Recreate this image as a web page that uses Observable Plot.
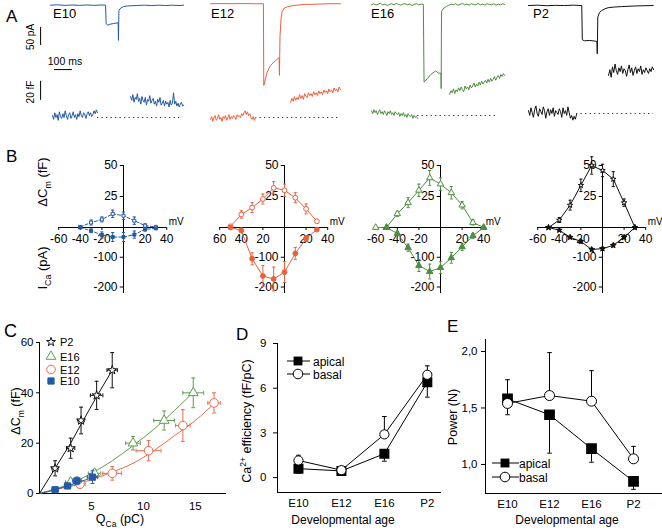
<!DOCTYPE html>
<html><head><meta charset="utf-8">
<script src="https://cdn.jsdelivr.net/npm/d3@7"></script>
<script src="https://cdn.jsdelivr.net/npm/@observablehq/plot@0.6"></script>
<style>
body{margin:0;background:#fff;}
#fig{position:relative;width:662px;height:531px;overflow:hidden;background:#fff;}
</style></head><body><div id="fig"></div>
<script>
// ================= DATA =================
const stages = ["E10","E12","E16","P2"];
const ages = ["E10","E12","E16","P2"];
const colors = {E10:"#2559a6", E12:"#ec5f3e", E16:"#4f8d40", P2:"#111111"};

// ---- Panel A: Ca current traces [time ms, current pA]
const curE10 = [[0,-2],[40,-1],[80,-2.5],[120,-1.5],[160,-2.5],[200,-1.5],[240,-2.5],[280,-1.5],[306,-2],[309,-52],[318,-58],[330,-55],[350,-53],[376,-51],[377.5,-100],[380,-17],[390,-10],[405,-6],[430,-4],[480,-3],[520,-2],[560,-3],[600,-2],[640,-3],[680,-2],[720,-3],[740,-2]];
const curE12 = [[0,2],[60,2.5],[120,2],[180,2.5],[240,2],[294,2],[296,-225],[315,-188],[333,-170],[361,-156],[381,-148],[383,-197],[386,-90],[392,-40],[398,-20],[410,-10],[430,-6],[460,-3],[520,0],[600,1],[660,2],[722,2]];
const curE16 = [[0,-1],[12,2],[25,-2],[37,1],[50,3],[62,-1],[75,1],[87,-3],[100,0],[112,2],[125,-1],[137,3],[150,0],[162,-2],[175,1],[187,2],[200,-1],[212,1],[225,-3],[237,0],[250,2],[262,-1],[275,1],[288,0],
  [292,-216],[309,-207],[328,-195],[356,-185],[374,-191],[386,-191],[387,-234],[389,-20],[398,-12],[417,-5],
  [430,-2],[442,1],[455,-1],[467,2],[480,-2],[492,0],[505,3],[517,-1],[530,1],[542,-2],[555,2],[567,0],[580,-1],[592,3],[605,-1],[617,1],[630,-2],[642,2],[655,0],[667,-1],[680,2],[692,-2],[705,1],[717,-1],[730,2],[740,0]];
const curP2 = [[0,-3],[50,-2],[100,-3.5],[150,-2.5],[200,-3],[250,-2],[296,-3],[299,-98],[310,-101],[340,-100],[370,-102],[380,-103],[382,-137],[385,-35],[395,-22],[406,-17],[425,-12],[443,-9],[480,-7],[517,-6],[600,-4],[693,-3]];

// ---- Panel A: capacitance traces (fF, relative to pre-pulse baseline), before / after the pulse
const capE10pre  = [2,-2,5,0,3,-3,6,1,-1,4,0,7,2,-2,3,5,-1,2,6,0,3,-2,4,1,7,2,0,5,3,-1,4,6,2,5,1,3,7,4,8,5];
const capE10post = [22,18,24,16,21,19,25,17,20,14,22,18,16,21,13,19,17,23,15,18,20,14,17,12,19,16,21,13,15,18,12,17,14,16,11,18,13,15,26,14,17,12,15,11,14,16,12,13];
const capE12pre  = [-2,1,-4,0,2,-3,-1,3,-2,0,-4,1,-1,2,-3,0,3,-2,1,-1,2,0,-2,3,1,2,0,4,2,5,7,3,6,2,4,0,-2,1,-3,0];
const capE12post = [16,20,17,22,18,21,19,24,20,23,19,25,22,21,26,23,25,22,27,24,26,23,28,25,27,24,29,26,28,25,30,27,29,26,31,28,30,27,32,29];
const capE16pre  = [5,2,6,3,5,1,4,6,2,4,1,5,3,0,4,2,5,1,3,0,4,2,1,3,-1,2,0,3,-1,1,-2,2,0,-1,1,-3,0,-2,-1,-3];
const capE16post = [22,26,24,28,23,27,25,29,26,30,27,25,31,28,30,27,32,29,31,34,30,33,31,35,32,36,33,35,37,34,38,35,39,36,38,41,37,40,42,39,43,41,44,42];
const capP2pre   = [3,-2,6,1,-4,4,8,0,-3,5,2,-1,7,3,-5,2,5,-2,4,0,6,-3,3,1,-1,5,2,-4,6,0,3,-2,7,1,-5,-2,-7,-3,-6,-1];
const capP2post  = [40,46,38,49,43,52,45,41,48,44,50,42,47,45,39,46,51,43,48,40,45,49,42,47,44,50,41,46,43,48,45,42,47,44,49,46];
// time spans (ms) of the capacitance segments and of the dotted baseline
const capPreSpan  = {E10:[11,261], E12:[0,250], E16:[0,256], P2:[0,267]};
const capPostSpan = {E10:[445,740], E12:[445,722], E16:[434,740], P2:[445,695]};
const capDotSpan  = {E10:[261,722], E12:[250,722], E16:[256,706], P2:[267,695]};

// ---- Panel B: I-V and ΔCm-V relations
const ivMV_E10 = [-40,-30,-20,-10,0,10,20,30];
const ivCm_E10 = [0.5,4,6.5,11,9.5,5.5,1.5,0.5];
const ivCmErr_E10 = [1,2,2,3,3,3,1.5,1];
const ivCa_E10 = [0,-11,-25,-32,-32,-24,-6,-3];
const ivCaErr_E10 = [3,6,10,15,15,12,6,3];

const ivMV_E12 = [-50,-40,-30,-20,-10,0,10,20,30];
const ivCm_E12 = [1,10.5,16,23,32,30,24,15,5];
const ivCmErr_E12 = [0,3,4,4,5,5,4,4,1];
const ivCa_E12 = [0,-10,-105,-163,-173,-150,-87,-37,-7];
const ivCaErr_E12 = [0,8,20,35,40,35,20,10,4];

const ivMV_E16 = [-60,-50,-40,-30,-20,-10,0,10,20,30,40];
const ivCm_E16 = [0,0,11,20,30,40,35,28,18,4,0];
const ivCmErr_E16 = [0,0,2,4,5,6,5,5,3,2,0];
const ivCa_E16 = [null,0,-20,-68,-128,-148,-135,-102,-65,-28,0];
const ivCaErr_E16 = [0,0,6,12,20,25,20,18,12,8,0];

const ivMV_P2 = [-50,-40,-30,-20,-10,0,10,20,30];
const ivCm_P2 = [0,6,18,34,50,46,39,20,0];
const ivCmErr_P2 = [0,2,4,5,7,5,6,3,0];
const ivCa_P2 = [0,-9,-33,-47,-74,-71,-60,-33,0];
const ivCaErr_P2 = [0,3,4,5,5,5,5,5,0];

const bXTicks = [-60,-40,-20,20,40];
const bXLabels = {E10:["-60","-40","-20","20","40"], E12:["60","40","20","20","40"], E16:["-60","-40","-20","20","40"], P2:["-60","-40","-20","20","40"]};
const bYTicksFF = [50,25], bYTicksPA = [-100,-200];

// ---- Panel C: ΔCm vs QCa
const cQ_P2 = [1.5,3,4,5.5,7], cCm_P2 = [10,18,29,39,49], cQErr_P2 = [0.3,0.4,0.3,0.6,0.5], cCmErr_P2 = [3,4,5.3,5.6,7];
const cQ_E16 = [3,5.3,9,12,14.8], cCm_E16 = [4.5,8,20,29,40], cQErr_E16 = [0.5,0.6,0.7,1,1], cCmErr_E16 = [1.5,1.5,2.7,3.8,5.9];
const cQ_E12 = [3.9,7,10.5,13.8,16.8], cCm_E12 = [3.7,8,17,27,36], cQErr_E12 = [0.5,0.9,1.2,0.7,0.6], cCmErr_E12 = [1.5,2.7,4,6.3,4];
const cQ_E10 = [1.5,2.7,3.6,5.1], cCm_E10 = [1.5,3,5,6.5], cQErr_E10 = [0.3,0.3,0.4,0.5], cCmErr_E10 = [0.8,1,1.5,2.5];
const fitQ_P2 = [0,1.5,3,4,5.5,7], fitCm_P2 = [0,10,20,27.5,38.5,49];
const fitQ_E16 = [0,3,5,7,9,11,13,15], fitCm_E16 = [0,4,8,13,19,25.5,33,41];
const fitQ_E12 = [0,3,5,7,9,11,13,15,17], fitCm_E12 = [0,3,5.5,8.5,12,17,23,29,36.5];
const fitQ_E10 = [0,1.5,3,4.5,5.5], fitCm_E10 = [0,1.5,3.5,5.5,6.8];

// ---- Panel D: Ca2+ efficiency (fF/pC); error sign = direction of the one-sided bar
const effApical = [0.6,0.45,1.6,6.4], effApicalErr = [-0.3,-0.1,-0.5,-1.0];
const effBasal = [1.15,0.5,2.9,6.9], effBasalErr = [0.35,0.1,1.2,0.6];
// ---- Panel E: power (N)
const powApical = [1.58,1.44,1.14,0.85], powApicalErr = [0.17,-0.34,-0.12,-0.07];
const powBasal = [1.54,1.61,1.56,1.05], powBasalErr = [-0.1,0.38,0.27,0.11];

// ================= HELPERS =================
const fig = document.getElementById("fig");
const FONT = "Arial, 'Liberation Sans', sans-serif";
function put(svg, left, top, fontSize = 12) {
  svg.style.position = "absolute";
  svg.style.left = left + "px";
  svg.style.top = top + "px";
  svg.style.background = "none";
  svg.style.overflow = "visible";
  svg.style.maxWidth = "none";
  svg.style.fontFamily = FONT;
  svg.style.fontSize = fontSize + "px";
  svg.style.color = "#000";
  fig.appendChild(svg);
}
const hcap = {draw(ctx, size){const w = Math.sqrt(size)/2; ctx.moveTo(-w,0); ctx.lineTo(w,0);}};
const vcap = {draw(ctx, size){const h = Math.sqrt(size)/2; ctx.moveTo(0,-h); ctx.lineTo(0,h);}};
function seg(vals, span) {
  const [t0,t1] = span;
  return vals.map((v,i) => [t0 + i*(t1-t0)/(vals.length-1), v]);
}

// ================= PANEL A =================
const colStart = {E10:50, E12:210, E16:371, P2:528};
const capTop = {E10:56, E12:56, E16:54, P2:52};
const curData = {E10:curE10, E12:curE12, E16:curE16, P2:curP2};
const capPre = {E10:capE10pre, E12:capE12pre, E16:capE16pre, P2:capP2pre};
const capPost = {E10:capE10post, E12:capE12post, E16:capE16post, P2:capP2post};
const X = d => d[0], Y = d => d[1];

for (const s of stages) {
  const col = colors[s];
  const curMarks = [Plot.line(curData[s], {x: X, y: Y, stroke: col, strokeWidth: 1})];
  if (s === "E10") {
    curMarks.push(
      Plot.ruleX([-55], {y1: -114, y2: -64, stroke: "#000", strokeWidth: 1}),
      Plot.ruleY([-181], {x1: 22, x2: 122, stroke: "#000", strokeWidth: 1})
    );
  }
  put(Plot.plot({
    width: 160, height: 100, marginLeft: 25, marginRight: 0, marginTop: 0, marginBottom: 0,
    x: {domain: [0, 750], axis: null},
    y: {domain: [-267, 11], axis: null},
    marks: curMarks
  }), colStart[s] - 25, 0);

  const capMarks = [
    Plot.ruleY([0], {x1: capDotSpan[s][0], x2: capDotSpan[s][1], stroke: "#333", strokeWidth: 1.2, strokeDasharray: "1.3,3.2"}),
    Plot.line(seg(capPre[s], capPreSpan[s]), {x: X, y: Y, stroke: col, strokeWidth: 1}),
    Plot.line(seg(capPost[s], capPostSpan[s]), {x: X, y: Y, stroke: col, strokeWidth: 1})
  ];
  if (s === "E10") capMarks.push(Plot.ruleX([-55], {y1: 18, y2: 38, stroke: "#000", strokeWidth: 1}));
  put(Plot.plot({
    width: 160, height: 70, marginLeft: 25, marginRight: 0, marginTop: 0, marginBottom: 0,
    x: {domain: [0, 750], axis: null},
    y: {domain: [-9.45, 64.05], axis: null},
    marks: capMarks
  }), colStart[s] - 25, capTop[s]);
}

// ================= PANEL B =================
const kCa = 0.24; // drawing units (fF) per pA on the shared vertical axis
const pxPerMV = 1.08, pxPerFF = 1.24;
const bOrigin = {E10:123, E12:284, E16:440, P2:602};
function ivPanel(s, mv, cm, cmErr, ca, caErr, cmSym, caSym, rCm, rCa, dash) {
  const col = colors[s];
  const rows = mv.map((v,i) => ({mv: v, cm: cm[i], cmLo: cm[i]-cmErr[i], cmHi: cm[i]+cmErr[i],
    ca: ca[i] == null ? null : ca[i]*kCa,
    caLo: ca[i] == null ? null : (ca[i]-caErr[i])*kCa,
    caHi: ca[i] == null ? null : (ca[i]+caErr[i])*kCa}));
  const caRows = rows.filter(d => d.ca != null);
  const yTicks = [...bYTicksFF, ...bYTicksPA.map(v => v*kCa)];
  const yLabels = [...bYTicksFF, ...bYTicksPA].map(String);
  const ox = 95, oy = 82;
  const svg = Plot.plot({
    width: 170, height: 160, margin: 0,
    x: {domain: [-60, 40], range: [ox - 60*pxPerMV, ox + 40*pxPerMV], axis: null},
    y: {domain: [0, 50], range: [oy, oy - 50*pxPerFF], axis: null},
    marks: [
      Plot.ruleY([0], {x1: -60, x2: 40, stroke: "#000", strokeWidth: 1}),
      Plot.ruleX([0], {y1: 50, y2: -222*kCa, stroke: "#000", strokeWidth: 1}),
      Plot.ruleY(yTicks, {y: d => d, x1: -3, x2: 0, stroke: "#000"}),
      Plot.text(yTicks, {x: 0, y: d => d, text: yLabels, dx: -6, textAnchor: "end", fontSize: 12}),
      Plot.ruleX(bXTicks, {x: d => d, y1: 0, y2: -2.4, stroke: "#000"}),
      Plot.text(bXTicks, {x: d => d, y: 0, dy: 12, text: bXLabels[s], fontSize: 12}),
      Plot.text(["mV"], {x: 40, y: 0, dx: 2, dy: -6, textAnchor: "start", fontSize: 10}),
      // ΔCm
      Plot.ruleX(rows, {x: "mv", y1: "cmLo", y2: "cmHi", stroke: col, strokeWidth: 1}),
      Plot.dot(rows, {x: "mv", y: "cmLo", symbol: hcap, r: 1.8, fill: "none", stroke: col, strokeWidth: 1}),
      Plot.dot(rows, {x: "mv", y: "cmHi", symbol: hcap, r: 1.8, fill: "none", stroke: col, strokeWidth: 1}),
      Plot.line(rows, {x: "mv", y: "cm", stroke: col, strokeWidth: 1, strokeDasharray: dash}),
      Plot.dot(rows, {x: "mv", y: "cm", symbol: cmSym, r: rCm, fill: "#fff", stroke: col, strokeWidth: 1}),
      // ICa
      Plot.ruleX(caRows, {x: "mv", y1: "caLo", y2: "caHi", stroke: col, strokeWidth: 1}),
      Plot.dot(caRows, {x: "mv", y: "caLo", symbol: hcap, r: 1.8, fill: "none", stroke: col, strokeWidth: 1}),
      Plot.dot(caRows, {x: "mv", y: "caHi", symbol: hcap, r: 1.8, fill: "none", stroke: col, strokeWidth: 1}),
      Plot.line(caRows, {x: "mv", y: "ca", stroke: col, strokeWidth: 1, strokeDasharray: dash}),
      Plot.dot(caRows, {x: "mv", y: "ca", symbol: caSym, r: rCa, fill: col, stroke: col, strokeWidth: 1})
    ]
  });
  put(svg, bOrigin[s] - ox, 227 - oy, 12);
}
ivPanel("E10", ivMV_E10, ivCm_E10, ivCmErr_E10, ivCa_E10, ivCaErr_E10, "square", "square", 1.7, 1.7, "3,2");
ivPanel("E12", ivMV_E12, ivCm_E12, ivCmErr_E12, ivCa_E12, ivCaErr_E12, "circle", "circle", 2.4, 2.4, null);
ivPanel("E16", ivMV_E16, ivCm_E16, ivCmErr_E16, ivCa_E16, ivCaErr_E16, "triangle", "triangle", 2.4, 2.4, null);
ivPanel("P2", ivMV_P2, ivCm_P2, ivCmErr_P2, ivCa_P2, ivCaErr_P2, "star", "star", 1.7, 1.8, null);

// ================= PANEL C =================
const cSeries = [
  {s:"E12", q:cQ_E12, cm:cCm_E12, qe:cQErr_E12, ce:cCmErr_E12, fq:fitQ_E12, fc:fitCm_E12, sym:"circle", r:4.3, fill:"#fff", curve:"monotone-x"},
  {s:"E16", q:cQ_E16, cm:cCm_E16, qe:cQErr_E16, ce:cCmErr_E16, fq:fitQ_E16, fc:fitCm_E16, sym:"triangle", r:3.6, fill:"#fff", curve:"monotone-x"},
  {s:"E10", q:cQ_E10, cm:cCm_E10, qe:cQErr_E10, ce:cCmErr_E10, fq:fitQ_E10, fc:fitCm_E10, sym:"square", r:3.5, fill:null, curve:"monotone-x"},
  {s:"P2", q:cQ_P2, cm:cCm_P2, qe:cQErr_P2, ce:cCmErr_P2, fq:fitQ_P2, fc:fitCm_P2, sym:"star", r:2.8, fill:"#fff", curve:"linear"}
];
const cColors = {E10:"#2559a6", E12:"#ec6a48", E16:"#5f9c4e", P2:"#111"};
const cMarks = [
  Plot.ruleY([0], {stroke: "#000", strokeWidth: 1}),
  Plot.ruleX([0], {stroke: "#000", strokeWidth: 1})
];
for (const S of cSeries) {
  const col = cColors[S.s];
  const rows = S.q.map((q,i) => ({q, cm: S.cm[i], qe: S.qe[i], ce: S.ce[i]}));
  const fit = S.fq.map((q,i) => ({q, cm: S.fc[i]}));
  cMarks.push(
    Plot.line(fit, {x: "q", y: "cm", stroke: col, strokeWidth: 1, curve: S.curve}),
    Plot.ruleX(rows, {x: "q", y1: d => d.cm - d.ce, y2: d => d.cm + d.ce, stroke: col, strokeWidth: 1}),
    Plot.dot(rows, {x: "q", y: d => d.cm - d.ce, symbol: hcap, r: 2.2, fill: "none", stroke: col, strokeWidth: 1}),
    Plot.dot(rows, {x: "q", y: d => d.cm + d.ce, symbol: hcap, r: 2.2, fill: "none", stroke: col, strokeWidth: 1}),
    Plot.ruleY(rows, {y: "cm", x1: d => d.q - d.qe, x2: d => d.q + d.qe, stroke: col, strokeWidth: 1}),
    Plot.dot(rows, {x: d => d.q - d.qe, y: "cm", symbol: vcap, r: 2.2, fill: "none", stroke: col, strokeWidth: 1}),
    Plot.dot(rows, {x: d => d.q + d.qe, y: "cm", symbol: vcap, r: 2.2, fill: "none", stroke: col, strokeWidth: 1}),
    Plot.dot(rows, {x: "q", y: "cm", symbol: S.sym, r: S.r, fill: S.fill || col, stroke: col, strokeWidth: 1})
  );
}
put(Plot.plot({
  width: 230, height: 201, marginLeft: 39, marginRight: 4, marginTop: 12, marginBottom: 38,
  x: {domain: [0, 18], ticks: [5, 10, 15], tickSize: 0, tickPadding: 8, label: null},
  y: {domain: [0, 60], ticks: [0, 20, 40, 60], tickSize: 3, tickPadding: 3, label: null},
  marks: cMarks
}), 0, 330, 11.5);

// ================= PANEL D =================
const dRows = ages.map((a,i) => ({i, ap: effApical[i], apE: effApicalErr[i], ba: effBasal[i], baE: effBasalErr[i]}));
put(Plot.plot({
  width: 225, height: 201, marginLeft: 57, marginRight: 4, marginTop: 13, marginBottom: 39,
  x: {domain: [-0.488, 3.33], ticks: [0,1,2,3], tickFormat: i => ages[i], tickSize: 0, tickPadding: 6, label: null},
  y: {domain: [-1, 9], ticks: [0,3,6,9], tickSize: 4, tickPadding: 7, label: null},
  marks: [
    Plot.ruleY([-1], {stroke: "#000", strokeWidth: 1}),
    Plot.ruleX([-0.488], {stroke: "#000", strokeWidth: 1}),
    Plot.ruleX(dRows, {x: "i", y1: "ap", y2: d => d.ap + d.apE, stroke: "#000"}),
    Plot.dot(dRows, {x: "i", y: d => d.ap + d.apE, symbol: hcap, r: 2.6, fill: "none", stroke: "#000", strokeWidth: 1}),
    Plot.ruleX(dRows, {x: "i", y1: "ba", y2: d => d.ba + d.baE, stroke: "#000"}),
    Plot.dot(dRows, {x: "i", y: d => d.ba + d.baE, symbol: hcap, r: 2.6, fill: "none", stroke: "#000", strokeWidth: 1}),
    Plot.line(dRows, {x: "i", y: "ap", stroke: "#000", strokeWidth: 1}),
    Plot.line(dRows, {x: "i", y: "ba", stroke: "#000", strokeWidth: 1}),
    Plot.dot(dRows, {x: "i", y: "ap", symbol: "square", r: 4.8, fill: "#000", stroke: "#000"}),
    Plot.dot(dRows, {x: "i", y: "ba", symbol: "circle", r: 4.6, fill: "#fff", stroke: "#000", strokeWidth: 1})
  ]
}), 220, 330, 11.5);

// ================= PANEL E =================
const eRows = ages.map((a,i) => ({i, ap: powApical[i], apE: powApicalErr[i], ba: powBasal[i], baE: powBasalErr[i]}));
put(Plot.plot({
  width: 222, height: 201, marginLeft: 45, marginRight: 0, marginTop: 9, marginBottom: 38,
  x: {domain: [-0.524, 3.69], ticks: [0,1,2,3], tickFormat: i => ages[i], tickSize: 0, tickPadding: 6, label: null},
  y: {domain: [0.743, 2.106], ticks: [1, 1.5, 2], tickFormat: v => v.toFixed(1).replace(".", ","), tickSize: 4, tickPadding: 4, label: null},
  marks: [
    Plot.ruleY([0.743], {stroke: "#000", strokeWidth: 1}),
    Plot.ruleX([-0.524], {stroke: "#000", strokeWidth: 1}),
    Plot.ruleX(eRows, {x: "i", y1: "ap", y2: d => d.ap + d.apE, stroke: "#000"}),
    Plot.dot(eRows, {x: "i", y: d => d.ap + d.apE, symbol: hcap, r: 2.6, fill: "none", stroke: "#000", strokeWidth: 1}),
    Plot.ruleX(eRows, {x: "i", y1: "ba", y2: d => d.ba + d.baE, stroke: "#000"}),
    Plot.dot(eRows, {x: "i", y: d => d.ba + d.baE, symbol: hcap, r: 2.6, fill: "none", stroke: "#000", strokeWidth: 1}),
    Plot.line(eRows, {x: "i", y: "ap", stroke: "#000", strokeWidth: 1}),
    Plot.line(eRows, {x: "i", y: "ba", stroke: "#000", strokeWidth: 1}),
    Plot.dot(eRows, {x: "i", y: "ap", symbol: "square", r: 5.2, fill: "#000", stroke: "#000"}),
    Plot.dot(eRows, {x: "i", y: "ba", symbol: "circle", r: 5, fill: "#fff", stroke: "#000", strokeWidth: 1})
  ]
}), 440, 330, 11.5);

// ================= TEXT / LEGEND OVERLAY =================
const ov = d3.create("svg").attr("width", 662).attr("height", 531)
  .style("position", "absolute").style("left", "0px").style("top", "0px").style("overflow", "visible")
  .attr("font-family", FONT);
function T(x, y, parts, size, anchor = "start", rotate = 0) {
  const g = ov.append("g").attr("transform", `translate(${x},${y})` + (rotate ? ` rotate(${rotate})` : ""));
  const t = g.append("text").attr("font-size", size).attr("text-anchor", anchor).attr("fill", "#000");
  if (typeof parts === "string") { t.text(parts); return; }
  let shift = 0;
  for (const p of parts) {
    if (typeof p === "string") {
      t.append("tspan").attr("dy", -shift).text(p); shift = 0;
    } else if (p.sub) {
      const d = size * 0.3; t.append("tspan").attr("dy", d - shift).attr("font-size", size * 0.68).text(p.sub); shift = d;
    } else if (p.sup) {
      const d = -size * 0.38; t.append("tspan").attr("dy", d - shift).attr("font-size", size * 0.68).text(p.sup); shift = d;
    }
  }
}
// panel letters
T(6, 22, "A", 17); T(6, 162, "B", 17); T(4, 337, "C", 18); T(236, 340, "D", 17); T(447, 332, "E", 17);
// panel A labels
T(53, 18, "E10", 13); T(211, 18, "E12", 13); T(371, 18, "E16", 13); T(533, 18, "P2", 13);
T(33.5, 37, "50 pA", 10, "middle", -90);
T(33.5, 92, "20 fF", 10, "middle", -90);
T(65, 65, "100 ms", 10.5, "middle");
// panel B labels
T(47, 182, ["ΔC", {sub: "m"}, " (fF)"], 13, "middle", -90);
T(47, 268, ["I", {sub: "Ca"}, " (pA)"], 13, "middle", -90);
// panel C labels + legend
T(20, 411, ["ΔC", {sub: "m"}, " (fF)"], 12.5, "middle", -90);
T(120, 523, ["Q", {sub: "Ca"}, " (pC)"], 12.5, "middle");
const cLeg = [
  {s:"P2", y:342, sym:d3.symbolStar, r:2.8, fill:"#fff"},
  {s:"E16", y:356.5, sym:d3.symbolTriangle, r:3.6, fill:"#fff"},
  {s:"E12", y:369.5, sym:d3.symbolCircle, r:4.3, fill:"#fff"},
  {s:"E10", y:381, sym:d3.symbolSquare, r:3.5, fill:null}
];
for (const L of cLeg) {
  ov.append("path").attr("transform", `translate(51,${L.y})`)
    .attr("d", d3.symbol(L.sym, Math.PI * L.r * L.r)())
    .attr("fill", L.fill || cColors[L.s]).attr("stroke", cColors[L.s]).attr("stroke-width", 1);
  T(60, L.y + 4, L.s, 11);
}
// panel D labels + legend
T(251, 421, ["Ca", {sup: "2+"}, " efficiency (fF/pC)"], 12.5, "middle", -90);
T(343, 524, "Developmental age", 12, "middle");
function lineLegend(x0, x1, cx, y, filledSquare, label, tx) {
  ov.append("line").attr("x1", x0).attr("x2", x1).attr("y1", y).attr("y2", y).attr("stroke", "#000");
  if (filledSquare) ov.append("path").attr("transform", `translate(${cx},${y})`).attr("d", d3.symbol(d3.symbolSquare, Math.PI*5*5)()).attr("fill", "#000");
  else ov.append("circle").attr("cx", cx).attr("cy", y).attr("r", 4.8).attr("fill", "#fff").attr("stroke", "#000");
  T(tx, y + 4.5, label, 12);
}
lineLegend(287, 310, 298, 361, true, "apical", 313);
lineLegend(287, 310, 298, 374, false, "basal", 313);
// panel E labels + legend
T(457, 417, "Power (N)", 12.5, "middle", -90);
T(567, 524, "Developmental age", 12, "middle");
lineLegend(492, 519, 505, 463, true, "apical", 519);
lineLegend(492, 519, 505, 477, false, "basal", 519);

fig.appendChild(ov.node());
</script></body></html>
